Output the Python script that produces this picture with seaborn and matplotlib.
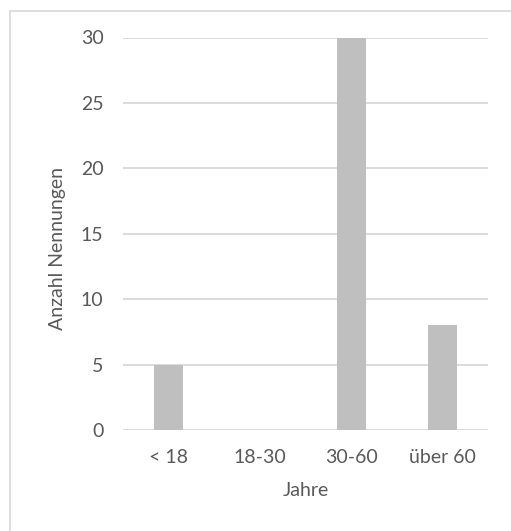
import matplotlib
matplotlib.use("Agg")
import matplotlib.pyplot as plt
from matplotlib.lines import Line2D
import pandas as pd
import seaborn as sns

# Age groups and number of mentions
categories = ["< 18", "18-30", "30-60", "über 60"]
counts = [5, 0, 30, 8]
y_ticks = [0, 5, 10, 15, 20, 25, 30]

TEXT = "#595959"
GRID = "#d9d9d9"
BAR = "#bfbfbf"
FS = 14

sns.set_theme(style="white")
plt.rcParams["font.family"] = ["Lato", "DejaVu Sans"]

W, H = 511, 531
fig = plt.figure(figsize=(W / 100, H / 100), dpi=100)
fig.patch.set_facecolor("white")

# chart frame: top and left edges
fx, fy = 10 / W, (H - 11) / H
fig.lines.append(Line2D([fx, 1.0], [fy, fy], transform=fig.transFigure,
                        color=GRID, linewidth=1.2))
fig.lines.append(Line2D([fx, fx], [0.0, fy], transform=fig.transFigure,
                        color=GRID, linewidth=1.2))

left, right = 123, 488
top, bottom = 37.5, 430
ax = fig.add_axes([left / W, (H - bottom) / H, (right - left) / W, (bottom - top) / H])

df = pd.DataFrame({"Jahre": categories, "Anzahl": counts})
sns.barplot(data=df, x="Jahre", y="Anzahl", color=BAR, width=0.32,
            saturation=1, linewidth=0, edgecolor=BAR, ax=ax, zorder=3)

ax.set_xlim(-0.5, len(categories) - 0.5)
ax.set_ylim(0, 30)
ax.set_yticks(y_ticks)
ax.yaxis.grid(True, color=GRID, linewidth=1.3)
ax.set_axisbelow(True)
for s in ax.spines.values():
    s.set_visible(False)

ax.tick_params(axis="y", length=0, pad=14, labelsize=FS, labelcolor=TEXT)
ax.tick_params(axis="x", length=0, pad=14, labelsize=FS, labelcolor=TEXT)

ax.set_xlabel("Jahre", fontsize=FS, color=TEXT, labelpad=11)
ax.set_ylabel("Anzahl Nennungen", fontsize=FS, color=TEXT)
ax.yaxis.label.set_va("center")
ax.yaxis.set_label_coords((57 - left) / (right - left), (bottom - 248) / (bottom - top))

fig.savefig("out.png", dpi=100, facecolor="white")
